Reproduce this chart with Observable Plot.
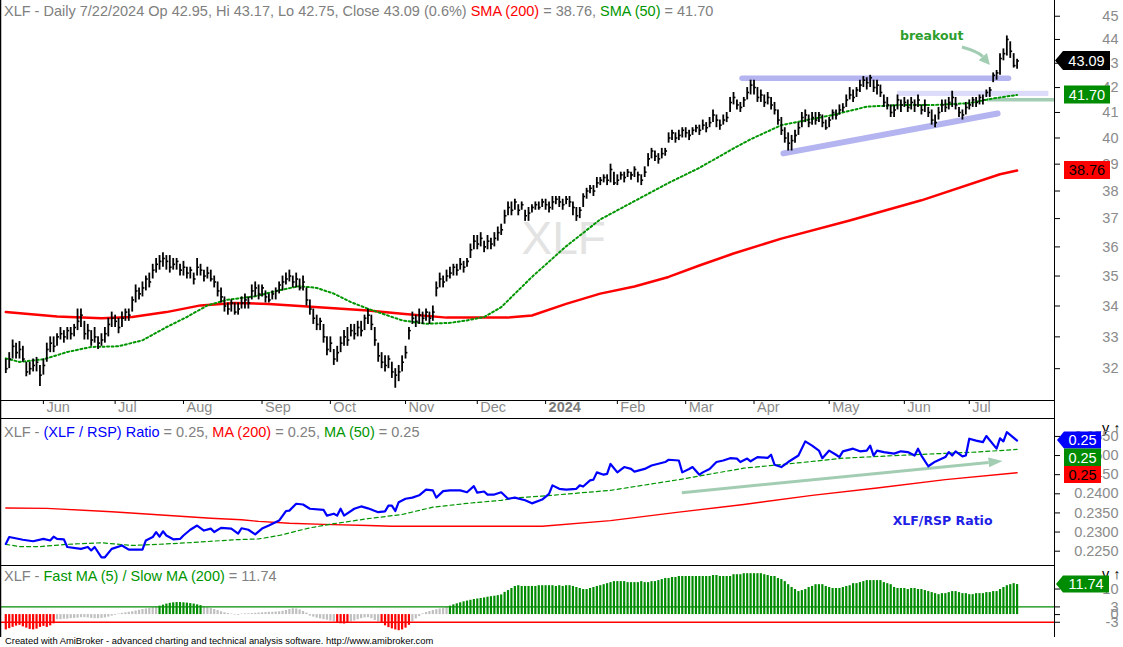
<!DOCTYPE html>
<html><head><meta charset="utf-8">
<script src="https://cdn.jsdelivr.net/npm/d3@7"></script>
<script src="https://cdn.jsdelivr.net/npm/@observablehq/plot@0.6"></script>
<style>
body{margin:0;background:#fff;}
#wrap{position:relative;width:1123px;height:647px;overflow:hidden;background:#fff;font-family:"Liberation Sans",Arial,sans-serif;}
.panel{position:absolute;left:0;}
.title{position:absolute;left:4px;font-size:14.5px;line-height:1;color:#808080;white-space:nowrap;z-index:5;}
.footer{position:absolute;left:5px;top:636px;font-size:9.4px;line-height:1;color:#000;white-space:nowrap;}
</style></head><body>
<div id="wrap">
  <div class="panel" id="p1" style="top:0"></div>
  <div class="panel" id="p2" style="top:419px"></div>
  <div class="panel" id="p3" style="top:565px"></div>
  <div class="title" style="top:4px">XLF - Daily 7/22/2024 Op 42.95, Hi 43.17, Lo 42.75, Close 43.09 (0.6%) <span style="color:#ff0000">SMA (200)</span> = 38.76, <span style="color:#009600">SMA (50)</span> = 41.70</div>
  <div class="title" style="top:425px">XLF - <span style="color:#0000ff">(XLF / RSP) Ratio</span> = 0.25, <span style="color:#ff0000">MA (200)</span> = 0.25, <span style="color:#009600">MA (50)</span> = 0.25</div>
  <div class="title" style="top:569px">XLF - <span style="color:#009600">Fast MA (5) / Slow MA (200)</span> = 11.74</div>
  <div class="footer">Created with AmiBroker - advanced charting and technical analysis software. http://www.amibroker.com</div>
</div>
<script>
// ---------------- DATA ----------------
const monthLabels = ["Jun","Jul","Aug","Sep","Oct","Nov","Dec","2024","Feb","Mar","Apr","May","Jun","Jul"];
const monthIdx    = [11,32,52,75,95,117,138,158,179,199,219,241,263,282];

const closes = [32.0,32.3,32.7,32.5,32.6,32.3,31.9,32.0,32.1,32.2,31.8,32.1,32.6,32.8,32.7,
33.0,33.1,33.0,33.2,33.1,33.3,33.5,33.7,33.1,33.2,32.9,33.0,32.8,32.9,33.1,33.4,
33.6,33.5,33.3,33.6,33.8,33.7,34.2,34.5,34.4,34.6,34.9,34.8,
35.2,35.4,35.5,35.6,35.5,35.3,35.4,35.5,35.2,35.3,35.1,35.2,34.9,35.3,35.2,35.0,35.1,34.9,34.8,
34.5,34.3,34.0,33.9,34.1,33.8,33.9,34.1,34.2,34.1,34.5,34.6,34.4,34.6,34.3,34.2,34.4,34.5,34.7,
34.8,34.9,35.0,34.8,34.9,34.6,34.8,34.2,33.9,33.6,33.4,33.5,
33.0,32.6,32.8,32.3,32.5,32.8,33.0,32.9,33.2,33.1,33.3,33.2,33.6,33.7,33.4,
32.9,32.4,32.2,32.1,32.3,31.9,31.8,31.9,32.2,32.5,33.2,33.6,33.5,33.7,33.6,33.8,33.6,33.8,
34.6,34.9,34.8,35.0,35.1,35.3,35.2,35.4,35.3,35.5,35.9,36.2,36.1,36.3,36.0,36.2,36.1,36.3,36.5,36.6,37.1,37.4,
37.3,37.6,37.3,37.5,37.1,37.2,37.4,37.5,37.4,37.6,37.5,37.4,37.6,37.7,37.6,37.5,37.7,37.6,37.4,37.1,37.3,37.8,38.0,38.1,38.0,
38.3,38.4,38.5,38.4,38.8,38.3,38.4,38.6,38.5,38.7,38.6,38.8,38.6,38.4,38.7,39.2,39.5,39.3,39.2,39.4,39.5,
40.0,40.2,40.0,40.1,40.3,40.2,40.1,40.3,40.4,40.3,40.5,40.4,40.6,40.9,40.7,40.5,40.7,40.8,41.4,41.6,41.3,41.2,41.5,41.8,42.1,
42.0,41.6,41.7,41.4,41.6,41.3,41.1,40.7,40.3,40.0,39.8,39.9,40.1,40.4,40.8,40.9,40.6,40.8,40.7,40.9,40.6,40.4,40.7,41.0,40.9,41.1,41.2,
41.5,41.7,41.6,41.9,42.1,42.3,42.2,42.4,42.0,42.1,41.8,41.4,41.3,41.0,41.1,
41.5,41.3,41.4,41.2,41.4,41.3,41.5,41.1,41.3,41.0,40.7,40.6,41.0,41.3,41.2,41.4,41.6,41.3,41.0,40.9,41.2,41.3,41.5,41.4,41.6,41.5,
41.8,41.9,42.5,42.6,43.2,43.4,44.0,43.5,42.9,43.09];

const lows = [31.85,32.0,32.3,32.3,32.3,32.2,31.75,31.8,31.9,31.9,31.45,31.8,32.2,32.5,32.5,
32.7,32.9,32.8,32.9,32.9,33.0,33.2,33.3,32.9,32.9,32.7,32.8,32.6,32.7,32.8,33.0,
33.3,33.3,33.1,33.3,33.5,33.5,33.8,34.1,34.2,34.3,34.5,34.6,
34.9,35.1,35.2,35.3,35.2,35.1,35.2,35.2,35.0,35.0,34.9,34.9,34.7,35.0,35.0,34.8,34.9,34.8,34.6,
34.3,34.1,33.8,33.7,33.8,33.7,33.7,33.9,33.9,33.9,34.2,34.3,34.2,34.3,34.1,34.1,34.2,34.2,34.4,
34.5,34.7,34.8,34.6,34.6,34.5,34.5,34.0,33.7,33.4,33.2,33.2,
32.8,32.4,32.5,32.1,32.2,32.5,32.7,32.7,33.0,32.9,33.0,33.0,33.2,33.4,33.2,
32.7,32.2,32.0,31.9,32.0,31.7,31.4,31.6,31.9,32.3,32.9,33.4,33.3,33.4,33.4,33.5,33.4,33.5,
34.3,34.6,34.6,34.8,34.9,35.0,35.0,35.2,35.1,35.3,35.6,35.9,35.9,36.0,35.8,35.9,35.9,36.0,36.2,36.4,36.8,37.1,
37.1,37.3,37.1,37.3,36.9,36.9,37.2,37.3,37.3,37.4,37.3,37.2,37.3,37.5,37.4,37.3,37.5,37.4,37.1,36.9,37.0,37.4,37.7,37.9,37.8,
38.1,38.2,38.3,38.2,38.3,38.2,38.2,38.4,38.3,38.5,38.4,38.5,38.3,38.2,38.5,38.9,39.2,39.1,39.0,39.2,39.3,
39.8,39.9,39.8,39.9,40.0,40.0,39.9,40.1,40.2,40.1,40.3,40.2,40.4,40.6,40.4,40.3,40.5,40.6,41.0,41.3,41.1,41.0,41.2,41.5,41.7,
41.7,41.4,41.4,41.2,41.3,41.1,40.9,40.5,40.1,39.8,39.5,39.5,39.8,40.1,40.4,40.6,40.4,40.5,40.5,40.6,40.4,40.3,40.4,40.7,40.7,40.9,41.0,
41.2,41.5,41.4,41.6,41.8,42.0,41.9,42.0,41.8,41.7,41.6,41.2,41.1,40.8,40.8,
41.1,41.0,41.2,41.0,41.1,41.0,41.2,40.9,41.0,40.8,40.5,40.4,40.7,41.0,41.0,41.1,41.2,41.1,40.8,40.7,40.9,41.1,41.2,41.2,41.3,41.3,
41.6,41.6,42.2,42.3,42.5,43.1,43.3,43.2,42.8,42.75];

const highs = [32.3,32.5,32.9,32.8,32.85,32.7,32.2,32.2,32.3,32.35,32.1,32.3,32.8,33.0,33.0,
33.1,33.3,33.2,33.3,33.3,33.4,33.9,33.9,33.5,33.4,33.2,33.3,33.0,33.1,33.3,33.6,
33.8,33.7,33.6,33.8,33.9,33.9,34.3,34.7,34.6,34.8,35.0,35.1,
35.4,35.6,35.7,35.8,35.7,35.7,35.6,35.6,35.4,35.5,35.3,35.3,35.1,35.6,35.4,35.2,35.3,35.2,35.0,
34.8,34.6,34.3,34.1,34.2,34.1,34.1,34.3,34.4,34.3,34.7,34.8,34.7,34.7,34.5,34.4,34.5,34.6,34.8,
35.0,35.1,35.2,35.0,35.1,34.9,35.0,34.6,34.2,33.9,33.7,33.6,
33.4,33.0,33.0,32.6,32.7,33.0,33.2,33.3,33.4,33.4,33.5,33.5,33.7,33.9,33.7,
33.3,32.8,32.5,32.4,32.4,32.2,32.0,32.1,32.4,32.7,33.3,33.8,33.7,33.9,33.8,33.9,33.8,34.0,
34.8,35.1,35.0,35.2,35.3,35.4,35.4,35.6,35.5,35.6,36.1,36.4,36.4,36.5,36.2,36.4,36.3,36.5,36.7,36.8,37.3,37.6,
37.6,37.7,37.5,37.6,37.3,37.4,37.5,37.6,37.6,37.7,37.7,37.6,37.8,37.8,37.8,37.7,37.8,37.8,37.6,37.4,37.4,37.9,38.1,38.2,38.2,
38.5,38.5,38.6,38.6,39.0,38.7,38.6,38.7,38.7,38.8,38.7,38.9,38.7,38.6,38.9,39.4,39.6,39.5,39.4,39.6,39.6,
40.2,40.3,40.2,40.3,40.4,40.4,40.3,40.4,40.5,40.5,40.7,40.6,40.8,41.1,40.9,40.7,40.9,41.0,41.6,41.8,41.5,41.4,41.6,42.0,42.3,
42.3,42.0,41.9,41.7,41.8,41.6,41.4,41.1,40.8,40.4,40.2,40.1,40.3,40.6,41.0,41.1,40.9,41.0,41.0,41.0,40.9,40.7,40.8,41.1,41.1,41.3,41.35,
41.7,42.0,41.9,42.0,42.3,42.45,42.4,42.5,42.3,42.3,42.1,41.7,41.6,41.3,41.3,
41.7,41.5,41.6,41.5,41.6,41.5,41.7,41.3,41.5,41.2,41.1,40.9,41.2,41.5,41.5,41.6,41.85,41.6,41.2,41.1,41.4,41.5,41.6,41.6,41.7,41.7,
41.9,42.0,42.6,42.7,43.4,43.6,44.15,43.9,43.4,43.17];

// [bar index, value] readings
const sma200 = [[0,33.80],[15,33.66],[28,33.60],[37,33.64],[47,33.80],[57,34.02],[67,34.10],[77,34.07],[86,34.00],[96,33.93],[106,33.85],[116,33.75],[129,33.62],[147,33.62],[154,33.69],[164,34.07],[174,34.41],[184,34.65],[194,34.97],[203,35.36],[213,35.77],[227,36.29],[247,36.93],[268,37.66],[291,38.62],[296,38.76]];
const sma50 = [[0,32.32],[4,32.21],[11,32.29],[18,32.52],[25,32.68],[33,32.70],[40,32.89],[47,33.31],[53,33.64],[59,34.02],[65,34.21],[73,34.32],[80,34.52],[86,34.66],[91,34.60],[96,34.41],[101,34.13],[106,33.91],[116,33.53],[123,33.42],[130,33.45],[135,33.53],[140,33.64],[145,33.96],[154,34.97],[164,36.02],[174,36.97],[184,37.63],[194,38.30],[203,38.86],[213,39.60],[218,39.95],[227,40.50],[242,40.90],[252,41.23],[262,41.30],[272,41.30],[282,41.37],[289,41.56],[296,41.70]];

const ratio = [[0,0.2269],[1,0.2287],[5,0.2280],[8,0.2276],[11,0.2282],[13,0.2278],[14,0.2288],[15,0.2282],[17,0.2281],[18,0.2261],[22,0.2256],[24,0.2261],[25,0.2252],[26,0.2261],[28,0.2234],[29,0.2234],[31,0.2256],[34,0.2265],[36,0.2254],[40,0.2254],[41,0.2278],[43,0.2287],[44,0.2300],[45,0.2288],[46,0.2302],[47,0.2291],[49,0.2281],[51,0.2282],[52,0.2291],[54,0.2306],[56,0.2317],[58,0.2304],[60,0.2309],[61,0.2300],[63,0.2311],[66,0.2309],[68,0.2296],[69,0.2310],[71,0.2306],[73,0.2294],[75,0.2309],[77,0.2317],[80,0.2330],[82,0.2355],[83,0.2356],[85,0.2374],[87,0.2372],[89,0.2361],[93,0.2358],[94,0.2343],[96,0.2348],[97,0.2343],[98,0.2361],[99,0.2343],[102,0.2361],[104,0.2367],[106,0.2362],[109,0.2352],[111,0.2354],[112,0.2369],[113,0.2369],[114,0.2355],[115,0.2378],[117,0.2387],[119,0.2390],[121,0.2396],[123,0.2411],[125,0.2409],[126,0.2390],[128,0.2407],[130,0.2409],[133,0.2409],[135,0.2404],[137,0.2420],[138,0.2403],[140,0.2406],[141,0.2398],[143,0.2398],[145,0.2404],[147,0.2387],[149,0.2390],[152,0.2383],[154,0.2375],[157,0.2385],[159,0.2400],[160,0.2422],[162,0.2413],[164,0.2411],[167,0.2413],[168,0.2422],[169,0.2419],[171,0.2435],[172,0.2437],[173,0.2456],[175,0.2450],[176,0.2452],[177,0.2478],[179,0.2456],[181,0.2470],[183,0.2465],[184,0.2458],[187,0.2465],[189,0.2474],[193,0.2483],[194,0.2489],[197,0.2487],[198,0.2456],[200,0.2465],[201,0.2470],[203,0.2450],[204,0.2456],[206,0.2465],[208,0.2483],[210,0.2487],[212,0.2493],[214,0.2492],[215,0.2483],[217,0.2492],[218,0.2485],[220,0.2496],[223,0.2494],[224,0.2502],[225,0.2476],[227,0.2470],[229,0.2483],[232,0.2500],[234,0.2537],[236,0.2526],[238,0.2513],[239,0.2493],[241,0.2513],[243,0.2502],[244,0.2496],[245,0.2511],[248,0.2518],[250,0.2511],[252,0.2513],[253,0.2526],[254,0.2500],[255,0.2513],[257,0.2509],[260,0.2505],[262,0.2511],[264,0.2509],[266,0.2500],[267,0.2518],[268,0.2500],[270,0.2472],[272,0.2484],[275,0.2496],[276,0.2509],[277,0.2500],[278,0.2511],[280,0.2498],[281,0.2500],[282,0.2544],[284,0.2539],[286,0.2535],[287,0.2551],[290,0.2518],[291,0.2545],[292,0.2537],[293,0.2561],[296,0.2539]];
const ratioMA200 = [[0,0.2363],[12,0.2362],[31,0.2353],[40,0.2348],[50,0.2342],[60,0.2336],[69,0.2332],[74,0.2328],[83,0.2323],[93,0.2320],[106,0.2317],[113,0.2315],[148,0.2315],[157,0.2315],[177,0.2330],[197,0.2352],[216,0.2372],[236,0.2396],[255,0.2415],[275,0.2437],[296,0.2455]];
const ratioMA50 = [[0,0.2268],[4,0.2262],[10,0.2262],[18,0.2268],[28,0.2272],[37,0.2265],[47,0.2269],[57,0.2274],[67,0.2280],[74,0.2282],[80,0.2291],[84,0.2300],[89,0.2311],[96,0.2322],[106,0.2335],[116,0.2346],[125,0.2365],[135,0.2375],[145,0.2383],[150,0.2390],[157,0.2394],[177,0.2409],[197,0.2437],[216,0.2467],[231,0.2480],[245,0.2493],[265,0.2502],[284,0.2509],[296,0.2516]];

const osc = [-6.0,-5.5,-5.0,-4.5,-4.2,-4.8,-5.3,-5.8,-6.0,-5.7,-5.0,-4.6,-5.0,-4.4,-3.6,
-2.0,-2.0,-1.8,-1.8,-1.6,-1.5,-1.4,-1.2,-1.2,-1.3,-1.5,-1.6,-1.6,-1.5,-1.3,-1.0,-0.6,-0.3,0.2,0.5,0.7,0.9,1.1,1.4,1.7,2.0,2.2,2.4,2.7,2.9,
3.3,3.7,4.1,4.4,4.6,4.7,4.7,4.6,4.5,4.3,4.1,3.8,3.5,
3.0,2.7,2.4,2.0,1.6,1.1,0.7,0.4,
0.2,-0.2,-0.3,0.2,0.3,0.3,0.4,
0.5,0.6,0.7,0.8,0.9,0.9,1.0,1.1,1.3,1.6,2.0,2.3,2.2,1.8,1.2,0.6,
-0.6,-1.0,-1.4,-1.7,-2.0,-2.2,-2.5,-2.8,
-3.3,-3.6,-3.7,-3.4,
-2.9,-2.5,-2.0,-1.6,-1.3,-1.2,-1.6,-2.3,-2.9,
-3.5,-4.4,-5.1,-5.6,-6.0,-6.3,-6.0,-5.3,-4.2,
-2.8,-1.7,-0.8,
0.3,0.8,1.2,1.6,1.9,2.2,2.5,2.8,
3.3,3.8,4.2,4.6,5.0,5.3,5.6,5.9,6.1,6.3,6.5,6.8,7.0,7.2,7.4,
7.7,8.7,9.4,10.2,11.0,11.3,
11.0,11.0,11.0,11.0,11.0,11.3,11.3,11.3,11.3,11.3,11.0,11.3,11.0,11.3,11.3,11.0,
10.6,10.2,9.8,9.8,10.2,10.6,11.0,11.3,11.7,12.1,12.5,12.9,12.9,12.9,
12.9,12.5,12.5,12.5,12.5,12.9,12.5,12.5,12.9,12.9,
13.3,13.7,14.1,14.1,14.5,14.5,14.9,14.9,14.9,14.9,14.9,14.9,14.9,14.9,14.9,14.9,
15.3,15.3,14.9,14.9,14.9,14.9,15.6,15.6,15.6,16.0,16.0,16.0,16.0,16.0,16.0,
15.6,15.3,14.9,14.9,14.1,13.7,12.9,11.7,10.6,9.8,9.0,
9.4,9.8,10.6,11.0,11.7,11.7,11.7,11.0,10.6,10.2,10.2,10.2,10.6,11.0,
11.3,12.1,12.1,12.5,12.9,13.3,13.3,13.3,13.3,13.3,12.5,12.1,11.7,10.6,
10.2,10.2,10.2,9.8,10.2,10.2,9.8,9.8,9.4,9.0,8.6,8.2,7.8,
8.2,8.2,8.6,9.0,9.0,8.6,8.2,8.2,7.8,7.8,8.2,8.2,8.2,
8.6,8.6,9.0,9.0,9.8,10.6,11.3,11.7,12.1,11.74];

const priceTicks = [32,33,34,35,36,37,38,39,40,41,42,43,44,45];
const ratioTicks = [0.2250,0.2300,0.2350,0.2400,0.2450,0.2500,0.2550];
const oscTicks = [10,3,0,-3];

// annotations in data coordinates [bar index, value]
const resistanceLine = [[215.5,42.38],[293.5,42.38]];
const supportLine = [[227.6,39.41],[290.3,40.96]];
const lightBand = {x1:261, x2:305.3, y1:41.64, y2:41.85};
const sageLine = [[287.2,41.51],[307,41.51]];
const breakoutArrow = {x1:280.0, y1:43.66, x2:288.2, y2:42.91};
const breakoutLabel = {x:271, y:44.13, text:"breakout"};
const ratioArrow = {x1:198.0, y1:0.24016, x2:291.9, y2:0.24844};
const ratioLabel = {x:274.2, y:0.23277, text:"XLF/RSP Ratio"};
const watermark = {x:163.3, y:36.25, text:"XLF"};

// ---------------- RENDER ----------------
const W = 1123, MR = 69, XD = [-1.55, 306.95];
const FONT = "'Liberation Sans', Arial, sans-serif";
const GRAY = "#8a8a8a", GREEN = "#009600", TAGGREEN = "#008c00", SAGE = "#a3cdb3";
const AXFS = 14.5;
const bars = closes.map((c, i) => ({i, c, h: highs[i], l: lows[i]}));
const months = monthLabels.map((label, k) => ({label, i: monthIdx[k]}));
const oscBars = osc.map((v, i) => ({i, v}));

function tagMark(tags) {
  return (index, scales, values, dims) => {
    const g = d3.create("svg:g");
    const x0 = dims.width - dims.marginRight;
    let prevBottom = -Infinity;
    for (const t of tags) {
      const h = t.h;
      let cy = scales.y(t.value);
      if (cy - h / 2 < prevBottom) cy = prevBottom + h / 2;
      prevBottom = cy + h / 2;
      const L = x0 + t.left, R = x0 + t.right, T = cy - h / 2, B = cy + h / 2;
      const d = t.tip != null
        ? `M${x0 + t.tip},${cy}L${L},${T}L${R},${T}L${R},${B}L${L},${B}Z`
        : `M${L},${T}L${R},${T}L${R},${B}L${L},${B}Z`;
      g.append("path").attr("d", d).attr("fill", t.fill);
      g.append("text").attr("x", (L + R) / 2).attr("y", cy).attr("dy", "0.36em")
        .attr("text-anchor", "middle").attr("fill", t.color)
        .attr("font-size", 14.5).attr("font-family", FONT).text(t.label);
    }
    return g.node();
  };
}

function arrowMark(a, opt) {
  return (index, scales) => {
    const x1 = scales.x(a.x1), y1 = scales.y(a.y1), x2 = scales.x(a.x2), y2 = scales.y(a.y2);
    const dx = x2 - x1, dy = y2 - y1, len = Math.hypot(dx, dy);
    const cx = (x1 + x2) / 2 - dy / len * opt.bend, cy = (y1 + y2) / 2 + dx / len * opt.bend;
    const tx = x2 - cx, ty = y2 - cy, tl = Math.hypot(tx, ty);
    const ux = tx / tl, uy = ty / tl;
    const bx = x2 - ux * opt.head, by = y2 - uy * opt.head;
    const g = d3.create("svg:g");
    g.append("path").attr("d", `M${x1},${y1}Q${cx},${cy} ${bx},${by}`)
      .attr("fill", "none").attr("stroke", opt.color).attr("stroke-width", opt.width);
    g.append("path").attr("d",
      `M${x2},${y2}L${bx - uy * opt.headW / 2},${by + ux * opt.headW / 2}L${bx + uy * opt.headW / 2},${by - ux * opt.headW / 2}Z`)
      .attr("fill", opt.color);
    return g.node();
  };
}

function frameRules(insetBottom) {
  return [
    Plot.ruleX([XD[1]], {stroke: "#000", strokeWidth: 1, insetBottom}),
    Plot.ruleX([XD[0]], {stroke: "#000", strokeWidth: 1.5, insetBottom})
  ];
}

// right-hand value axis: tick marks from Plot's axis, labels as text marks
function rightAxis(ticks, fmt) {
  return [
    Plot.axisY({anchor: "right", ticks, tickSize: 5, tickFormat: () => "", stroke: "#000"}),
    Plot.text(ticks, {x: XD[1], y: d => d, text: fmt, dx: 64, textAnchor: "end",
      fontSize: AXFS, fill: GRAY, fontFamily: FONT})
  ];
}

// ---- Panel 1: price ----
const p1 = Plot.plot({
  width: W, height: 419, marginLeft: 0, marginRight: MR, marginTop: 0, marginBottom: 19,
  style: {fontFamily: FONT, fontSize: "14.5px", background: "transparent"},
  x: {domain: XD, axis: null},
  y: {type: "log", domain: [31.03, 45.69], axis: null},
  marks: [
    Plot.text([watermark], {x: "x", y: "y", text: "text", fontSize: 46, fill: "#e3e3e3", fontFamily: FONT}),
    Plot.rect([lightBand], {x1: "x1", x2: "x2", y1: "y1", y2: "y2", fill: "#dcdcfa"}),
    Plot.link([resistanceLine], {x1: d => d[0][0], y1: d => d[0][1], x2: d => d[1][0], y2: d => d[1][1], stroke: "#b4b4f0", strokeWidth: 5.5, strokeLinecap: "round"}),
    Plot.link([supportLine], {x1: d => d[0][0], y1: d => d[0][1], x2: d => d[1][0], y2: d => d[1][1], stroke: "#b4b4f0", strokeWidth: 6, strokeLinecap: "round"}),
    Plot.link([sageLine], {x1: d => d[0][0], y1: d => d[0][1], x2: d => d[1][0], y2: d => d[1][1], stroke: SAGE, strokeWidth: 3.5}),
    Plot.line(sma200, {x: d => d[0], y: d => d[1], stroke: "#ff0000", strokeWidth: 2.5}),
    Plot.line(sma50, {x: d => d[0], y: d => d[1], stroke: GREEN, strokeWidth: 2, strokeDasharray: "2,2.5"}),
    Plot.ruleX(bars, {x: "i", y1: "l", y2: "h", stroke: "#000", strokeWidth: 1.8}),
    Plot.link(bars, {x1: "i", x2: d => d.i + 0.55, y1: "c", y2: "c", stroke: "#000", strokeWidth: 1.6}),
    arrowMark(breakoutArrow, {bend: -5, head: 11, headW: 11, width: 3, color: SAGE}),
    Plot.text([breakoutLabel], {x: "x", y: "y", text: "text", fill: "#2e9e2e", fontWeight: "bold", fontSize: 12.5, fontFamily: "'DejaVu Sans', Verdana, sans-serif"}),
    ...rightAxis(priceTicks, d => String(d)),
    Plot.axisX({anchor: "bottom", ticks: monthIdx, tickSize: 4, tickFormat: () => "", stroke: "#000"}),
    Plot.text(months.filter(d => d.label !== "2024"), {x: "i", text: "label", frameAnchor: "bottom", dy: 11, dx: 3, textAnchor: "start", fontSize: AXFS, fill: GRAY}),
    Plot.text(months.filter(d => d.label === "2024"), {x: "i", text: "label", frameAnchor: "bottom", dy: 11, dx: 3, textAnchor: "start", fontSize: AXFS, fill: "#7a7a7a", fontWeight: "bold"}),
    Plot.ruleY([31.03], {stroke: "#000"}),
    Plot.ruleY([31.03], {stroke: "#000", dy: 18}),
    ...frameRules(-19),
    tagMark([
      {value: 43.09, label: "43.09", fill: "#000", color: "#fff", h: 19, tip: 1, left: 9, right: 56},
      {value: 41.70, label: "41.70", fill: TAGGREEN, color: "#fff", h: 18, left: 10, right: 56},
      {value: 38.76, label: "38.76", fill: "#ff0000", color: "#000", h: 18, left: 10, right: 56}
    ])
  ]
});
document.getElementById("p1").append(p1);

// ---- Panel 2: ratio ----
const p2 = Plot.plot({
  width: W, height: 146, marginLeft: 0, marginRight: MR, marginTop: 0, marginBottom: 0,
  style: {fontFamily: FONT, fontSize: "14.5px", background: "transparent"},
  x: {domain: XD, axis: null},
  y: {domain: [0.22126, 0.25942], axis: null},
  marks: [
    Plot.line(ratioMA200, {x: d => d[0], y: d => d[1], stroke: "#ff0000", strokeWidth: 1.4}),
    Plot.line(ratioMA50, {x: d => d[0], y: d => d[1], stroke: GREEN, strokeWidth: 1.2, strokeDasharray: "4,3"}),
    arrowMark(ratioArrow, {bend: 0, head: 14, headW: 10, width: 3, color: SAGE}),
    Plot.line(ratio, {x: d => d[0], y: d => d[1], stroke: "#0000ff", strokeWidth: 2.2}),
    Plot.text([ratioLabel], {x: "x", y: "y", text: "text", fill: "#2020e6", fontWeight: "bold", fontSize: 12.5, fontFamily: "'DejaVu Sans', Verdana, sans-serif"}),
    ...rightAxis(ratioTicks, d => d.toFixed(4)),
    ...frameRules(0),
    tagMark([
      {value: 0.2539, label: "0.25", fill: "#0000ff", color: "#fff", h: 17, tip: 3, left: 10, right: 47},
      {value: 0.2516, label: "0.25", fill: TAGGREEN, color: "#fff", h: 17.5, left: 10, right: 47},
      {value: 0.2455, label: "0.25", fill: "#ff0000", color: "#000", h: 17, left: 10, right: 47}
    ])
  ]
});
document.getElementById("p2").append(p2);

// ---- Panel 3: fast/slow MA oscillator ----
const p3 = Plot.plot({
  width: W, height: 72, marginLeft: 0, marginRight: MR, marginTop: 0, marginBottom: 4,
  style: {fontFamily: FONT, fontSize: "14.5px", background: "transparent"},
  x: {domain: XD, axis: null},
  y: {domain: [-7.4, 19.2], axis: null},
  color: {type: "identity"},
  marks: [
    Plot.ruleX(oscBars, {x: "i", y1: 0, y2: "v", strokeWidth: 2.2,
      stroke: d => d.v > 3 ? "#008c00" : d.v < -3 ? "#ff0000" : "#c0c0c0"}),
    Plot.ruleY([3], {stroke: "#008c00", strokeWidth: 1.4}),
    Plot.ruleY([-3], {stroke: "#ff0000", strokeWidth: 1.4}),
    ...rightAxis(oscTicks, d => String(d)),
    Plot.ruleY([19.2], {stroke: "#000"}),
    ...frameRules(-4),
    tagMark([
      {value: 11.74, label: "11.74", fill: TAGGREEN, color: "#fff", h: 17, tip: 2, left: 9, right: 55}
    ])
  ]
});
document.getElementById("p3").append(p3);
</script>
</body></html>
